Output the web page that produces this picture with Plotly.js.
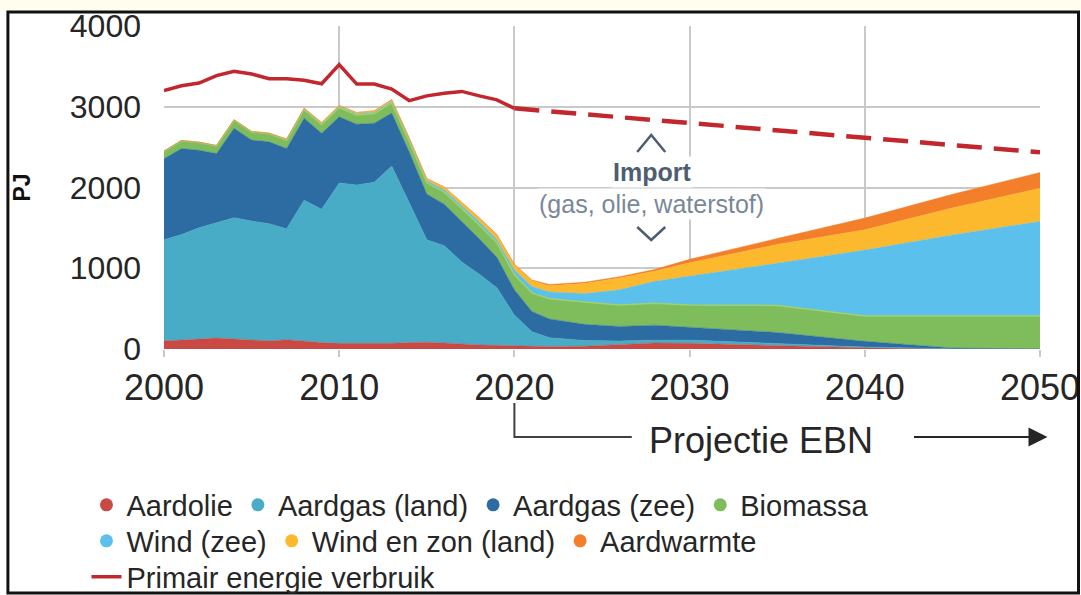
<!DOCTYPE html>
<html>
<head>
<meta charset="utf-8">
<script src="https://cdn.plot.ly/plotly-3.0.1.min.js"></script>
<style>
  html, body { margin: 0; padding: 0; background: #ffffff; }
  #chart { width: 1081px; height: 595px; }
</style>
</head>
<body>
<div id="chart"></div>
<script>
// ---- Data (PJ) ----
const years = [2000, 2001, 2002, 2003, 2004, 2005, 2006, 2007, 2008, 2009, 2010,
               2011, 2012, 2013, 2014, 2015, 2016, 2017, 2018, 2019, 2020,
               2021, 2022, 2024, 2026, 2028, 2030, 2035, 2040, 2045, 2050];

const aardolie = [100, 110, 125, 135, 125, 115, 100, 115, 95, 80, 70,
                  70, 65, 70, 80, 85, 75, 60, 50, 45, 40,
                  35, 30, 35, 55, 75, 70, 45, 15, 0, 0];

const aardgasLand = [1254, 1307, 1376, 1428, 1501, 1469, 1451, 1373, 1748, 1650, 1986,
                     1961, 2000, 2195, 1734, 1269, 1204, 1017, 876, 714, 380,
                     180, 110, 70, 45, 35, 40, 25, 10, 2, 0];

const aardgasZee = [1003, 1066, 960, 857, 1107, 1003, 1015, 995, 1016, 941, 819,
                    753, 731, 657, 627, 564, 514, 502, 439, 376, 313,
                    250, 233, 200, 180, 185, 160, 135, 71, 10, 0];

const biomassa = [90, 95, 95, 95, 100, 100, 100, 105, 105, 110, 115,
                  115, 120, 125, 130, 140, 150, 160, 170, 180, 185,
                  230, 250, 277, 265, 271, 275, 335, 314, 398, 410];

const windZee = [0, 0, 0, 0, 0, 0, 0, 3, 8, 10, 12,
                 14, 16, 20, 20, 25, 30, 35, 40, 40, 60,
                 80, 84, 104, 188, 272, 355, 522, 815, 1003, 1170];

const windZonLand = [5, 5, 6, 6, 7, 8, 9, 10, 10, 12, 13,
                     15, 17, 20, 22, 25, 30, 35, 45, 55, 65,
                     70, 75, 125, 146, 125, 167, 231, 251, 334, 410];

const aardwarmte = [0, 0, 0, 0, 0, 0, 0, 0, 1, 1, 2,
                    2, 3, 3, 3, 4, 4, 5, 6, 7, 8,
                    10, 17, 15, 15, 21, 43, 75, 145, 168, 196];

// Primary energy use: history and projection
const histYears = [2000, 2001, 2002, 2003, 2004, 2005, 2006, 2007, 2008, 2009, 2010,
                   2011, 2012, 2013, 2014, 2015, 2016, 2017, 2018, 2019, 2020];
const primairHist = [3200, 3260, 3294, 3385, 3440, 3406, 3348, 3348, 3327, 3285, 3523,
                     3281, 3281, 3219, 3076, 3135, 3168, 3190, 3135, 3085, 2980];
const projYears = [2020, 2030, 2040, 2050];
const primairProj = [2980, 2800, 2615, 2435];

const xTicks = [2000, 2010, 2020, 2030, 2040, 2050];

// ---- Series definitions ----
const FONT = 'Liberation Sans, Arial, sans-serif';
const series = [
  {name: 'Aardolie',          y: aardolie,    color: '#C94A44', legend: 'legend'},
  {name: 'Aardgas (land)',    y: aardgasLand, color: '#48ACC7', legend: 'legend'},
  {name: 'Aardgas (zee)',     y: aardgasZee,  color: '#2C6CA3', legend: 'legend'},
  {name: 'Biomassa',          y: biomassa,    color: '#7FBD5C', legend: 'legend'},
  {name: 'Wind (zee)',        y: windZee,     color: '#5BC0EB', legend: 'legend2'},
  {name: 'Wind en zon (land)',y: windZonLand, color: '#FDB92E', legend: 'legend2'},
  {name: 'Aardwarmte',        y: aardwarmte,  color: '#F47F2A', legend: 'legend2'}
];

const traces = [];
series.forEach(s => {
  traces.push({
    x: years, y: s.y, type: 'scatter', mode: 'lines',
    stackgroup: 'bron', name: s.name, showlegend: false,
    line: {width: s.name === 'Biomassa' ? 1.5 : 0.5, color: s.name === 'Biomassa' ? '#9FD16F' : s.color},
    fillcolor: s.color,
    hoverinfo: 'x+y+name'
  });
});
// Legend entries (dot symbols)
series.forEach(s => {
  traces.push({
    x: [null], y: [null], type: 'scatter', mode: 'markers',
    name: s.name, legend: s.legend, showlegend: true,
    marker: {size: 13, color: s.color}, hoverinfo: 'skip'
  });
});
traces.push({
  x: histYears, y: primairHist, type: 'scatter', mode: 'lines',
  name: 'Primair energie verbruik', legend: 'legend3', showlegend: true,
  line: {color: '#C1272D', width: 3.5}
});
traces.push({
  x: projYears, y: primairProj, type: 'scatter', mode: 'lines',
  name: 'Primair energie verbruik (projectie)', showlegend: false,
  line: {color: '#C1272D', width: 4.5, dash: '25px,12px'}
});

// pixel helpers for decorations (plot area: x 164..1039.5, y 26..349)
const py = p => (349 - p) / 323;           // container px -> paper y
const px = p => (p - 164) / 875.5;         // container px -> paper x
const legendFont = {family: FONT, size: 29, color: '#262626'};
const legendBase = {
  orientation: 'h', xref: 'container', yref: 'container', traceorder: 'normal',
  xanchor: 'left', yanchor: 'middle', font: legendFont,
  bgcolor: 'rgba(0,0,0,0)', borderwidth: 0, itemclick: false, itemdoubleclick: false
};

const layout = {
  width: 1081, height: 595,
  margin: {l: 164, r: 41, t: 26, b: 246},
  paper_bgcolor: '#ffffff', plot_bgcolor: '#ffffff',
  font: {family: FONT, color: '#262626'},
  showlegend: true,
  legend:  Object.assign({}, legendBase, {x: 0.080, y: 1 - 505 / 595}),
  legend2: Object.assign({}, legendBase, {x: 0.080, y: 1 - 541 / 595}),
  legend3: Object.assign({}, legendBase, {x: 0.080, y: 1 - 577 / 595}),
  xaxis: {
    range: [2000, 2050], tickvals: xTicks, ticktext: xTicks.map(String),
    showgrid: true, gridcolor: '#C9C9C9', gridwidth: 2,
    ticks: 'outside', ticklen: 7, tickwidth: 2, tickcolor: '#C9C9C9',
    tickfont: {family: FONT, size: 36, color: '#262626'},
    zeroline: false, showline: false, fixedrange: true
  },
  yaxis: {
    range: [0, 4000], dtick: 1000, tick0: 0,
    showgrid: true, gridcolor: '#C9C9C9', gridwidth: 2,
    ticks: '', ticklabelstandoff: 22,
    tickfont: {family: FONT, size: 32, color: '#262626'},
    zeroline: false, showline: false, fixedrange: true,
    title: {text: '<b>PJ</b>', font: {family: FONT, size: 23, color: '#111111'}, standoff: 32}
  },
  annotations: [
    {x: 2027.87, y: 2192, xref: 'x', yref: 'y', text: '<b>Import</b>', showarrow: false,
     font: {family: FONT, size: 25, color: '#4E5D70'}, bgcolor: '#ffffff'},
    {x: 2027.8, y: 1796, xref: 'x', yref: 'y', text: '(gas, olie, waterstof)', showarrow: false,
     font: {family: FONT, size: 25, color: '#7A8799'}, bgcolor: '#ffffff'},
    {x: px(761), y: py(440), xref: 'paper', yref: 'paper', xanchor: 'center', yanchor: 'middle',
     text: 'Projectie EBN', showarrow: false,
     font: {family: FONT, size: 36, color: '#262626'}},
    {x: px(1047), y: py(437), xref: 'paper', yref: 'paper', text: '', showarrow: true,
     ax: -135, ay: 0, arrowhead: 2, arrowsize: 1.9, arrowwidth: 2, arrowcolor: '#262626'}
  ],
  shapes: [
    // faint cream strip at the very top
    {type: 'rect', xref: 'paper', yref: 'paper', x0: -0.19, x1: 1.05, y0: py(10), y1: py(-2),
     fillcolor: '#FFFDEE', line: {width: 0}, layer: 'below'},
    // outer frame
    {type: 'rect', xref: 'paper', yref: 'paper',
     x0: px(8), x1: px(1078), y0: py(593), y1: py(12),
     line: {color: '#111111', width: 3}, fillcolor: 'rgba(0,0,0,0)', layer: 'above'},
    // up chevron
    {type: 'path', xref: 'x', yref: 'y', path: 'M 2027.01 2440 L 2027.81 2650 L 2028.61 2440',
     line: {color: '#4E5D70', width: 2.5}, layer: 'above'},
    // down chevron
    {type: 'path', xref: 'x', yref: 'y', path: 'M 2027.01 1511 L 2027.81 1350 L 2028.61 1511',
     line: {color: '#4E5D70', width: 2.5}, layer: 'above'},
    // projection bracket
    {type: 'path', xref: 'x', yref: 'paper',
     path: 'M 2020 ' + py(403) + ' L 2020 ' + py(437) + ' L 2026.7 ' + py(437),
     line: {color: '#404040', width: 2}, layer: 'above'}
  ]
};

Plotly.newPlot('chart', traces, layout, {displayModeBar: false, staticPlot: true});
</script>
</body>
</html>
